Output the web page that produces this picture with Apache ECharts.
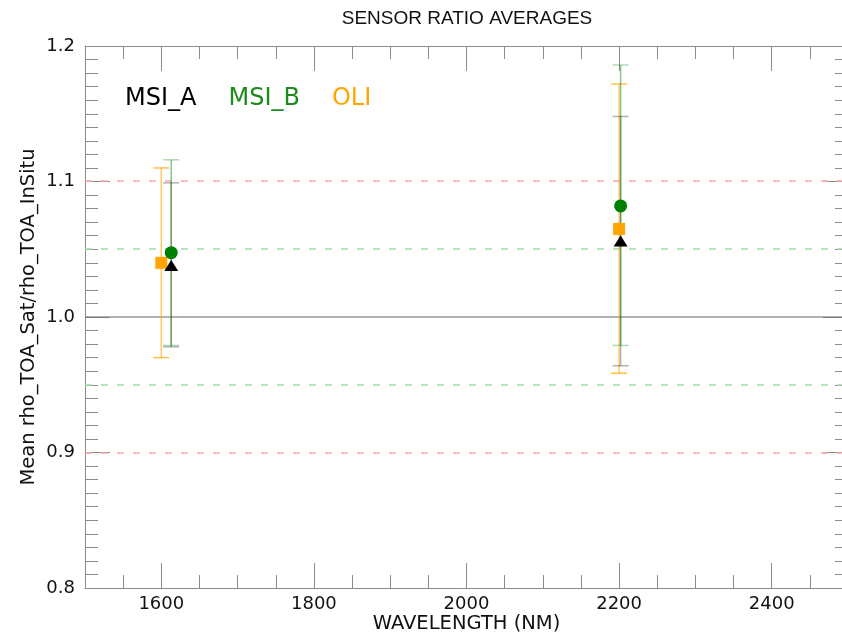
<!DOCTYPE html>
<html>
<head>
<meta charset="utf-8">
<script src="https://cdn.jsdelivr.net/npm/echarts@6/dist/echarts.min.js"></script>
<style>
  html, body { margin: 0; padding: 0; background: #fff; }
  #chart { width: 842px; height: 633px; }
</style>
</head>
<body>
<div id="chart"></div>
<script>
// Band wavelengths (nm) per sensor
const wavelengthMsiA = [1613, 2202];
const wavelengthMsiB = [1613, 2202];
const wavelengthOli = [1600, 2200];

// Mean TOA reflectance ratio (satellite / in situ) and its spread
const meanMsiA = [1.038, 1.056];
const lowMsiA = [0.978, 0.964];
const highMsiA = [1.099, 1.148];

const meanMsiB = [1.0475, 1.082];
const lowMsiB = [0.979, 0.979];
const highMsiB = [1.116, 1.186];

const meanOli = [1.040, 1.065];
const lowOli = [0.970, 0.9585];
const highOli = [1.110, 1.172];

// Axis ranges and labelled wavelength ticks
const wavelengthRange = [1500, 2500];
const ratioRange = [0.8, 1.2];
const wavelengthTicks = [1600, 1800, 2000, 2200, 2400];

// Reference levels around a ratio of 1
const unityLevel = [1.0];
const bandInner = [0.95, 1.05];
const bandOuter = [0.9, 1.1];

const chart = echarts.init(document.getElementById('chart'));

function pairs(xs, ys) { return xs.map((x, i) => [x, ys[i]]); }
function triples(xs, lo, hi) { return xs.map((x, i) => [x, lo[i], hi[i]]); }

function errorBars(name, xs, lo, hi, lineColor, capColor, z) {
  return {
    type: 'custom',
    name: name + ' range',
    z: z,
    silent: true,
    data: triples(xs, lo, hi),
    renderItem: function (params, api) {
      const top = api.coord([api.value(0), api.value(2)]);
      const bot = api.coord([api.value(0), api.value(1)]);
      const hw = 8;
      return {
        type: 'group',
        children: [
          { type: 'line', shape: { x1: top[0], y1: top[1], x2: bot[0], y2: bot[1] },
            style: { stroke: lineColor, lineWidth: 1.5 } },
          { type: 'line', shape: { x1: top[0] - hw, y1: top[1], x2: top[0] + hw, y2: top[1] },
            style: { stroke: capColor, lineWidth: 1.5 } },
          { type: 'line', shape: { x1: bot[0] - hw, y1: bot[1], x2: bot[0] + hw, y2: bot[1] },
            style: { stroke: capColor, lineWidth: 1.5 } }
        ]
      };
    }
  };
}

// Horizontal reference lines across the plot
function levelLines(name, levels, color, width, dash) {
  return {
    type: 'custom', name: name, silent: true, z: 1,
    encode: { y: 0 },
    data: levels.map(v => [v]),
    renderItem: function (params, api) {
      const cs = params.coordSys;
      const y = Math.round(api.coord([wavelengthRange[0], api.value(0)])[1]);
      return {
        type: 'line',
        shape: { x1: cs.x, y1: y, x2: cs.x + cs.width, y2: y },
        style: { stroke: color, lineWidth: width, lineDash: dash }
      };
    }
  };
}

const axisGray = '#8c8c8c';
const tickFont = { fontFamily: 'DejaVu Sans', fontSize: 18, color: '#111' };

// Wavelength axis: short ticks every 50 nm, plus a companion axis for the long labelled ticks
function wavelengthAxis(position, long) {
  const axis = {
    type: 'value', min: wavelengthRange[0], max: wavelengthRange[1], interval: 50, position: position,
    axisLine: { lineStyle: { color: axisGray } },
    splitLine: { show: false },
    axisLabel: { show: false }
  };
  if (long) {
    axis.axisLine = { show: false };
    axis.axisTick = { inside: true, length: 25, customValues: wavelengthTicks, lineStyle: { color: axisGray } };
  } else {
    axis.axisTick = { inside: true, length: 13, lineStyle: { color: axisGray } };
  }
  return axis;
}

const bottomLong = wavelengthAxis('bottom', true);
bottomLong.axisLabel = Object.assign({ show: true, margin: 7, customValues: wavelengthTicks,
  formatter: v => String(v) }, tickFont);
bottomLong.name = 'WAVELENGTH (NM)';
bottomLong.nameLocation = 'middle';
bottomLong.nameGap = 26;
bottomLong.nameMoveOverlap = false;
bottomLong.nameTextStyle = { fontFamily: 'DejaVu Sans', fontSize: 19.5, color: '#111' };

function ratioAxis(position) {
  return {
    type: 'value', min: ratioRange[0], max: ratioRange[1], interval: 0.1, position: position,
    axisLine: { lineStyle: { color: axisGray } },
    axisTick: { inside: true, length: 25, lineStyle: { color: axisGray } },
    minorTick: { show: true, splitNumber: 10, length: 13, lineStyle: { color: axisGray } },
    axisLabel: { show: false },
    splitLine: { show: false }
  };
}

const leftRatio = ratioAxis('left');
leftRatio.name = 'Mean rho_TOA_Sat/rho_TOA_InSitu';
leftRatio.nameLocation = 'middle';
leftRatio.nameGap = 46;
leftRatio.nameMoveOverlap = false;
leftRatio.nameTextStyle = { fontFamily: 'DejaVu Sans', fontSize: 19.5, color: '#111' };
leftRatio.axisLabel = Object.assign({ show: true, margin: 10, formatter: v => v.toFixed(1) }, tickFont);

const option = {
  backgroundColor: '#fff',
  animation: false,
  title: {
    text: 'SENSOR RATIO AVERAGES',
    left: 462, top: 4, textAlign: 'center',
    textStyle: { fontFamily: 'Liberation Sans', fontWeight: 'normal', fontSize: 19, color: '#111' }
  },
  legend: {
    left: 115, top: 82,
    itemWidth: 0, itemHeight: 0, itemGap: 27,
    selectedMode: false,
    textStyle: { fontFamily: 'DejaVu Sans', fontSize: 24 },
    data: [
      { name: 'MSI_A', icon: 'none', textStyle: { color: '#000' } },
      { name: 'MSI_B', icon: 'none', textStyle: { color: '#1a8c1a' } },
      { name: 'OLI', icon: 'none', textStyle: { color: '#ffa500' } }
    ]
  },
  grid: { left: 85, right: -6, top: 46, bottom: 45, containLabel: false, outerBoundsMode: 'none' },
  xAxis: [
    wavelengthAxis('bottom', false),
    bottomLong,
    wavelengthAxis('top', false),
    wavelengthAxis('top', true)
  ],
  yAxis: [leftRatio, ratioAxis('right')],
  series: [
    levelLines('unity', unityLevel, '#666', 1.2, null),
    levelLines('inner band', bandInner, '#a6d6a6', 1.5, [7, 9]),
    levelLines('outer band', bandOuter, '#ffa6a6', 1.5, [7, 9]),
    errorBars('OLI', wavelengthOli, lowOli, highOli, 'rgba(255,165,0,0.6)', 'rgba(255,165,0,0.7)', 2),
    errorBars('MSI_A', wavelengthMsiA, lowMsiA, highMsiA, 'rgba(0,0,0,0.3)', 'rgba(0,0,0,0.3)', 3),
    errorBars('MSI_B', wavelengthMsiB, lowMsiB, highMsiB, 'rgba(0,128,0,0.45)', 'rgba(0,128,0,0.3)', 4),
    {
      type: 'scatter', name: 'OLI', z: 5, symbol: 'rect', symbolSize: 12,
      itemStyle: { color: '#ffa500', opacity: 1 },
      data: pairs(wavelengthOli, meanOli)
    },
    {
      type: 'scatter', name: 'MSI_B', z: 6, symbol: 'circle', symbolSize: 13,
      itemStyle: { color: '#008000', opacity: 1 },
      data: pairs(wavelengthMsiB, meanMsiB)
    },
    {
      type: 'scatter', name: 'MSI_A', z: 7, symbol: 'triangle', symbolSize: [14, 11],
      itemStyle: { color: '#000', opacity: 1 },
      data: pairs(wavelengthMsiA, meanMsiA)
    }
  ]
};

chart.setOption(option);
</script>
</body>
</html>
